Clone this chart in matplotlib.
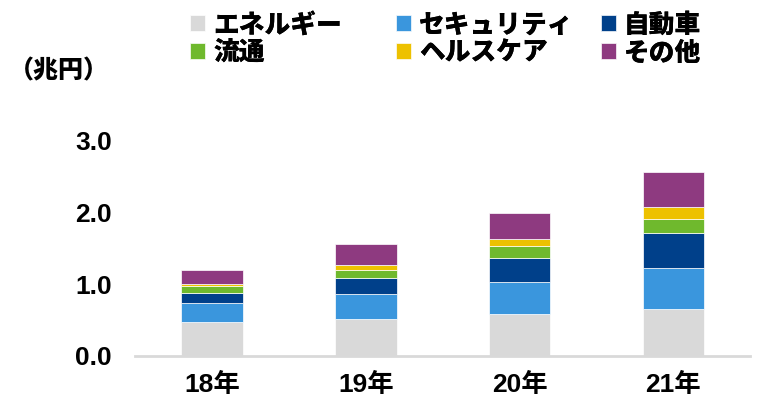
import matplotlib.pyplot as plt
import numpy as np

plt.rcParams['font.family'] = ['Liberation Sans', 'Noto Sans CJK JP', 'DejaVu Sans']

years = ['18年', '19年', '20年', '21年']
labels = ['エネルギー', 'セキュリティ', '自動車', '流通', 'ヘルスケア', 'その他']
colors = ['#D9D9D9', '#3A96DD', '#00408A', '#6FB92D', '#EDC100', '#8E3A80']

energy = [0.467, 0.519, 0.589, 0.658]
security = [0.269, 0.343, 0.44, 0.567]
auto = [0.14, 0.215, 0.335, 0.483]
retail = [0.097, 0.125, 0.159, 0.2]
health = [0.028, 0.064, 0.106, 0.159]
other = [0.201, 0.289, 0.358, 0.488]
series = [energy, security, auto, retail, health, other]

fig = plt.figure(figsize=(7.64, 4.05), dpi=100)
ax = fig.add_axes([0.177, 0.121, 0.805, 0.533])

x = np.arange(len(years))
bottom = np.zeros(len(years))
handles = []
for vals, lab, col in zip(series, labels, colors):
    b = ax.bar(x, vals, 0.4, bottom=bottom, color=col, label=lab,
               edgecolor='white', linewidth=0.5)
    handles.append(b)
    bottom += np.array(vals)

ax.set_xlim(-0.5, 3.5)
ax.set_ylim(0, 3.0)
ax.set_yticks([0, 1, 2, 3])
ax.set_yticklabels(['0.0', '1.0', '2.0', '3.0'])
ax.set_xticks(x)
ax.set_xticklabels(years)
for s in ['top', 'right', 'left']:
    ax.spines[s].set_visible(False)
ax.spines['bottom'].set_color('#D9D9D9')
ax.spines['bottom'].set_linewidth(2)
ax.tick_params(axis='both', length=0, labelsize=19)
ax.tick_params(axis='y', pad=17)
ax.tick_params(axis='x', pad=12)
for t in ax.get_xticklabels() + ax.get_yticklabels():
    t.set_fontweight('bold')

fig.text(0.012, 0.827, '（兆円）', fontsize=18, fontweight='heavy', va='center',
         family=['Noto Sans CJK JP'])

# three fixed columns, two rows each
col_x = [0.2487, 0.518, 0.786]
for c, xpos in enumerate(col_x):
    idx = [c, c + 3]
    lg = fig.legend([handles[i] for i in idx], [labels[i] for i in idx],
                    loc='upper left', bbox_to_anchor=(xpos, 0.972),
                    frameon=False, borderpad=0, borderaxespad=0,
                    handlelength=0.6, handleheight=0.6, handletextpad=0.3,
                    labelspacing=0.08,
                    prop={'family': 'Noto Sans CJK JP', 'weight': 'heavy', 'size': 18.5})
    fig.add_artist(lg)

fig.savefig('out.png', dpi=100)
